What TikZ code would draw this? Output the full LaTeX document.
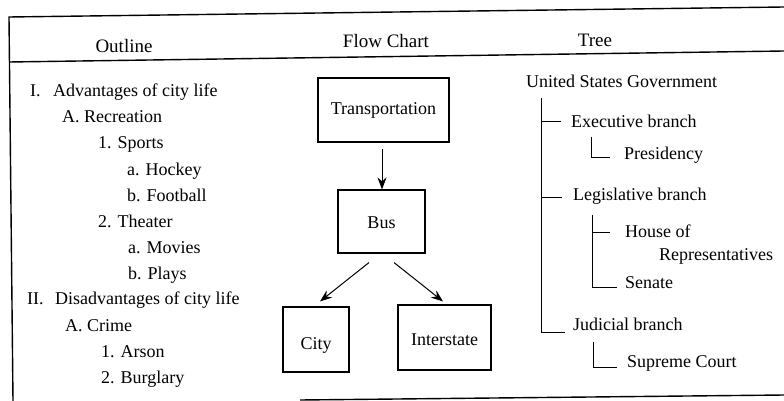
\documentclass[tikz,border=0pt]{standalone}
\usepackage{fontspec}
\setmainfont{Liberation Serif}
\usetikzlibrary{arrows.meta,calc}
\begin{document}
\begin{tikzpicture}[x=1pt,y=-1pt,
  txt/.style={inner sep=0pt,anchor=base west,font=\fontsize{18}{20}\selectfont},
  hdr/.style={inner sep=0pt,anchor=base,font=\fontsize{19}{22}\selectfont},
  fbox/.style={draw,line width=1.1pt,inner sep=0pt,font=\fontsize{18}{20}\selectfont},
  framel/.style={line width=1.4pt},
  tline/.style={line width=1pt},
  arr/.style={line width=1pt,-{Stealth[length=12pt,width=9pt]}}]
\useasboundingbox (0,0) rectangle (784,401);
% frame
\coordinate (tl) at (9,17); \coordinate (tr) at (784,7);
\coordinate (hl) at (9,62); \coordinate (hr) at (784,51);
\coordinate (bl) at (13,401);
\coordinate (bs) at (300,400); \coordinate (be) at (784,395);
\draw[framel] (tr) -- (tl) -- (bl);
\draw[framel] (hl) -- (hr);
\draw[framel] (bs) -- (be);
% headers
\node[hdr] (h1) at (124,53) {Outline};
\node[hdr] (h2) at (386,48) {Flow Chart};
\node[hdr] (h3) at (595,47) {Tree};
% outline
\node[txt] (o1) at (30,97) {\makebox[23pt][l]{I.}Advantages of city life};
\node[txt] (o2) at (62,123) {A. Recreation};
\node[txt] (o3) at (98,149) {1. Sports};
\node[txt] (o4) at (127,175) {a. Hockey};
\node[txt] (o5) at (127,201) {b. Football};
\node[txt] (o6) at (98,227) {2. Theater};
\node[txt] (o7) at (128,253) {a. Movies};
\node[txt] (o8) at (128,279) {b. Plays};
\node[txt] (o9) at (27,304) {\makebox[28pt][l]{II.}Disadvantages of city life};
\node[txt] (o10) at (65,331) {A. Crime};
\node[txt] (o11) at (101,357) {1. Arson};
\node[txt] (o12) at (101,383) {2. Burglary};
% flow chart
\node[fbox,minimum width=131pt,minimum height=64pt,text height=12pt,text depth=4pt] (trans) at (383.5,110) {Transportation};
\node[fbox,minimum width=87pt,minimum height=63pt,text height=13pt,text depth=0pt] (bus) at (381.5,221.5) {Bus};
\node[fbox,minimum width=66pt,minimum height=65pt,text height=19pt,text depth=0pt] (city) at (316,339.5) {City};
\node[fbox,minimum width=93pt,minimum height=65pt,text height=15pt,text depth=0pt] (inter) at (444.5,337.5) {Interstate};
\draw[arr] ($(trans.south)+(-1.5,6)$) -- ($(bus.north)+(0.5,0)$);
\draw[arr] ($(bus.south)+(-12.5,9)$) -- ($(city.north)+(4,-5)$);
\draw[arr] ($(bus.south)+(12.5,9)$) -- ($(inter.north)+(-1.5,-3)$);
% tree
\node[txt] (root) at (526,88) {United States Government};
\node[txt] (exec) at (571,128) {Executive branch};
\node[txt] (pres) at (624,160) {Presidency};
\node[txt] (legis) at (573,200) {Legislative branch};
\node[txt] (house) at (625,237) {House of};
\node[txt] (rep) at (659,260) {Representatives};
\node[txt] (senate) at (625,288) {Senate};
\node[txt] (jud) at (573,330) {Judicial branch};
\node[txt] (sup) at (627,367) {Supreme Court};
\coordinate (v0) at (541,98); \coordinate (v1) at (541,332); \coordinate (jt) at (565,332);
\coordinate (e0) at (541,122); \coordinate (e1) at (561,122);
\coordinate (l0) at (541,197); \coordinate (l1) at (562,197);
\coordinate (p0) at (591,137); \coordinate (p1) at (591,157); \coordinate (p2) at (610,157);
\coordinate (s0) at (592,215); \coordinate (s1) at (592,287); \coordinate (s2) at (617,287);
\coordinate (q0) at (592,232); \coordinate (q1) at (610,232);
\coordinate (j0) at (593,342); \coordinate (j1) at (593,367); \coordinate (j2) at (617,367);
\draw[tline] (v0) -- (v1) -- (jt);
\draw[tline] (e0) -- (e1);
\draw[tline] (l0) -- (l1);
\draw[tline] (p0) -- (p1) -- (p2);
\draw[tline] (s0) -- (s1) -- (s2);
\draw[tline] (q0) -- (q1);
\draw[tline] (j0) -- (j1) -- (j2);
\end{tikzpicture}
\end{document}
